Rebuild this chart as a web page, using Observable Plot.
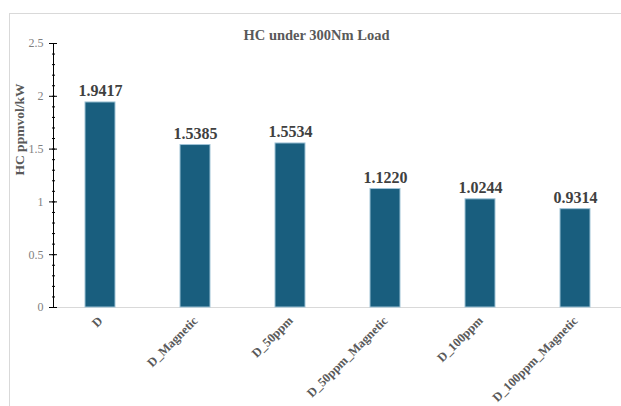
<!DOCTYPE html>
<html>
<head>
<meta charset="utf-8">
<script src="https://cdn.jsdelivr.net/npm/d3@7"></script>
<script src="https://cdn.jsdelivr.net/npm/@observablehq/plot@0.6"></script>
<style>
  html, body { margin: 0; padding: 0; background: #fff; overflow: hidden; }
  #wrap { position: relative; width: 621px; height: 406px; }
  #border { position: absolute; left: 9px; top: 13px; width: 700px; height: 500px;
            border-top: 1px solid #d9d9d9; border-left: 1px solid #d9d9d9; }
  #chart { position: absolute; left: 0; top: 0; }
</style>
</head>
<body>
<div id="wrap"><div id="border"></div><div id="chart"></div></div>
<script>
// Fuel blends tested under a 300 Nm load
const categories = ["D", "D_Magnetic", "D_50ppm", "D_50ppm_Magnetic", "D_100ppm", "D_100ppm_Magnetic"];
const hcValues = [1.9417, 1.5385, 1.5534, 1.1220, 1.0244, 0.9314];
const yTicks = [0, 0.5, 1, 1.5, 2, 2.5];
const yMinorTicks = d3.range(0, 2.5001, 0.1).map(v => +v.toFixed(1));
const titleText = "HC under 300Nm Load";
const yTitle = "HC ppmvol/kW";

const data = categories.map((c, i) => ({ fuel: c, hc: hcValues[i] }));
const serif = "'Liberation Serif', 'Times New Roman', serif";
const fmt = d3.format(".4f");

const chart = Plot.plot({
  width: 621,
  height: 406,
  marginLeft: 53,
  marginRight: 0,
  marginTop: 43,
  marginBottom: 99,
  style: { fontFamily: serif, background: "transparent", overflow: "visible" },
  x: { domain: categories, range: [53, 623], paddingInner: 0.684, paddingOuter: 0.342, axis: null },
  y: { domain: [0, 2.5], range: [307, 43] },
  marks: [
    // baseline
    Plot.ruleY([0], { stroke: "#d9d9d9", strokeWidth: 1 }),
    Plot.barY(data, { x: "fuel", y: "hc", fill: "#195e7e", stroke: "#9fc3d6", strokeWidth: 1 }),
    // vertical axis line
    Plot.frame({ anchor: "left", stroke: "#000", strokeWidth: 1 }),
    // minor and major ticks on the value axis
    Plot.ruleY(yMinorTicks, { stroke: "#000", strokeWidth: 1, insetLeft: -1, insetRight: 568 - 2 }),
    Plot.ruleY(yTicks, { stroke: "#000", strokeWidth: 1, insetLeft: -4, insetRight: 568 - 4 }),
    Plot.axisY({ ticks: yTicks, tickSize: 0, tickPadding: 10, fontSize: 12, fill: "#7f7f7f",
      fontFamily: serif, tickFormat: d => String(d), label: null }),
    // category labels
    Plot.text(categories, { x: d => d, frameAnchor: "bottom", rotate: -45, textAnchor: "end",
      dx: 3, dy: 14, fontSize: 12.5, fontWeight: "bold", fill: "#595959", fontFamily: serif }),
    // value labels
    Plot.text(data, { x: "fuel", y: "hc", text: d => fmt(d.hc), lineAnchor: "bottom", dy: -6,
      fontSize: 16, fontWeight: "bold", fill: "#404040", fontFamily: serif }),
    // titles
    Plot.text([titleText], { frameAnchor: "top", dx: -21, dy: -14, fontSize: 14.5,
      fontWeight: "bold", fill: "#595959", fontFamily: serif }),
    Plot.text([yTitle], { frameAnchor: "left", rotate: -90, dx: -34, fontSize: 13.5,
      fontWeight: "bold", fill: "#595959", fontFamily: serif })
  ]
});
document.getElementById("chart").appendChild(chart);
</script>
</body>
</html>
